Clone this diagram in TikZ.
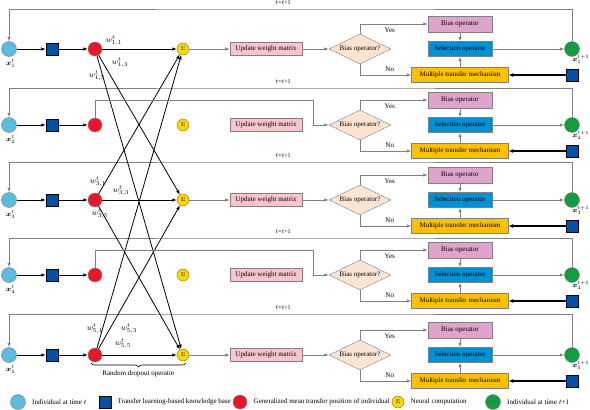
\documentclass[tikz,border=0pt]{standalone}
\usepackage{amsmath,amssymb,bm}
\usepackage{fontspec}
\setmainfont{Liberation Serif}
\usepackage{tikz}
\usetikzlibrary{shapes,shapes.geometric,arrows.meta,positioning,calc,decorations.pathreplacing}
\usepackage{xcolor}
\definecolor{indcyan}{RGB}{90,188,222}
\definecolor{kbblue}{RGB}{0,82,168}
\definecolor{gmred}{RGB}{232,24,44}
\definecolor{ncyellow}{RGB}{255,214,0}
\definecolor{ncborder}{RGB}{140,110,20}
\definecolor{nxtgreen}{RGB}{20,156,66}
\definecolor{uwmpink}{RGB}{250,196,206}
\definecolor{bqpeach}{RGB}{252,228,210}
\definecolor{bomauve}{RGB}{222,164,204}
\definecolor{soblue}{RGB}{0,144,214}
\definecolor{mtmorange}{RGB}{255,192,0}

\begin{document}
\begin{tikzpicture}[x=1pt,y=-1pt,
    font=\fontsize{7}{8}\selectfont,
    ind/.style={circle,draw=gray,fill=indcyan,minimum size=15pt,inner sep=0pt},
    kb/.style={rectangle,draw=black,fill=kbblue,minimum size=12pt,inner sep=0pt},
    gm/.style={circle,draw=gray,fill=gmred,minimum size=14pt,inner sep=0pt},
    nc/.style={circle,draw=ncborder,fill=ncyellow,minimum size=12pt,inner sep=0pt,font=\fontsize{5}{5}\selectfont},
    nxt/.style={circle,draw=gray,fill=nxtgreen,minimum size=15pt,inner sep=0pt},
    uwm/.style={rectangle,draw=gray,fill=uwmpink,minimum width=72pt,minimum height=13pt,inner sep=1pt},
    bq/.style={diamond,aspect=2.1,draw=gray,fill=bqpeach,minimum width=62pt,minimum height=30pt,inner sep=0pt},
    bo/.style={rectangle,draw=gray,fill=bomauve,minimum width=64pt,minimum height=16pt,inner sep=1pt},
    so/.style={rectangle,draw=gray,fill=soblue,minimum width=64pt,minimum height=15pt,inner sep=1pt},
    mtm/.style={rectangle,draw=gray,fill=mtmorange,minimum width=97pt,minimum height=15pt,inner sep=1pt},
    gry/.style={draw=gray,line width=0.8pt,-{Latex[length=4.5pt,width=3.5pt]}},
    blk/.style={draw=black,line width=0.8pt,-{Latex[length=4.5pt,width=3.5pt]}},
    blkthick/.style={draw=black,line width=1.3pt,-{Latex[length=4.5pt,width=4pt]}},
    wlab/.style={font=\fontsize{8}{9}\selectfont,inner sep=0pt},
    xlab/.style={font=\fontsize{7.5}{8}\selectfont,inner sep=0pt},
    brc/.style={decorate,decoration={brace,mirror,amplitude=4pt},draw=black,line width=0.6pt}
]
    \useasboundingbox (0,0) rectangle (590,410);

    % One row per individual
    \foreach \i/\y/\f in {1/49/9,2/125/88,3/200/162,4/275/238,5/355/314} {
        \node[ind] (ind\i) at (9,\y) {};
        \node[kb] (kb\i) at (52,\y) {};
        \node[gm] (gm\i) at (95,\y) {};
        \node[nc] (nc\i) at (183,\y) {$\Sigma$};
        \node[uwm] (uwm\i) at (266,\y) {Update weight matrix};
        \node[bq] (bq\i) at (360,\y) {Bias operator?};
        \node[bo] (bo\i) at (460,\y-25) {Bias operator};
        \node[so] (so\i) at (460,\y) {Selection operator};
        \node[mtm] (mtm\i) at (460,\y+26) {Multiple transfer mechanism};
        \node[nxt] (nxt\i) at (572,\y) {};
        \node[kb] (kbr\i) at (572,\y+26) {};
        \coordinate (fb\i) at (300,\f);

        % Labels
        \node[xlab, anchor=north west] (xl\i) at (6,\y+10) {$\bm{x}_{\i}^{t}$};
        \node[xlab, anchor=north east] (xn\i) at (589.5,\y+6) {$\bm{x}_{\i}^{t+1}$};
        \node[font=\fontsize{6}{7}\selectfont] (tl\i) at (283,\f-6) {$t$=$t$+1};

        % Connectors
        \draw[blk] (ind\i) -- (kb\i);
        \draw[blk] (kb\i) -- (gm\i);
        \draw[gry] (bq\i.north) |- (bo\i.west) node[pos=0.72, below] {Yes};
        \draw[gry] (bq\i.south) |- (mtm\i.west) node[pos=0.79, above] {No};
        \draw[gry] (bo\i) -- (so\i);
        \draw[gry] (mtm\i) -- (so\i);
        \draw[gry] (so\i) -- (nxt\i);
        \draw[blkthick] (kbr\i) -- (mtm\i);
        \draw[gry] (nxt\i.north) |- (fb\i) -| (ind\i.north);
    }

    % Kept individuals feed the neural computation
    \foreach \i in {1,3,5} {
        \draw[gry] (nc\i) -- (uwm\i);
        \draw[gry] (uwm\i) -- (bq\i);
        \foreach \j in {1,3,5}
            \draw[blk] (gm\i) -- (nc\j);
    }

    % Dropped individuals skip it
    \foreach \i/\y in {2/125,4/275} {
        \coordinate (dp\i) at (313,\y-25);
        \draw[gry] (gm\i.north) |- (dp\i) |- (bq\i.west);
    }

    % Weights
    \node[wlab] (w11) at ($(gm1)+(19,-8)$) {$w_{1,1}^{t}$};
    \node[wlab] (w13) at ($(gm1)+(25,14)$) {$w_{1,3}^{t}$};
    \node[wlab] (w15) at ($(gm1)+(2,27)$) {$w_{1,5}^{t}$};
    \node[wlab] (w31) at ($(gm3)+(3,-18)$) {$w_{3,1}^{t}$};
    \node[wlab] (w33) at ($(gm3)+(26,-9)$) {$w_{3,3}^{t}$};
    \node[wlab] (w35) at ($(gm3)+(5,14)$) {$w_{3,5}^{t}$};
    \node[wlab] (w51) at ($(gm5)+(0,-26)$) {$w_{5,1}^{t}$};
    \node[wlab] (w53) at ($(gm5)+(34,-26)$) {$w_{5,3}^{t}$};
    \node[wlab] (w55) at ($(gm5)+(28,-11)$) {$w_{5,5}^{t}$};

    % Dropout brace
    \draw[brc] ($(gm5)+(-4,8)$) -- ($(nc5)+(3,8)$) node[midway, below=4pt] (rdo) {Random dropout operator};

    % Legend
    \node[ind] (lgi) at (18,402) {};
    \node[right=3pt of lgi] (lgit) {Individual at time $t$};
    \node[kb] (lgk) at (105,402) {};
    \node[right=3pt of lgk] (lgkt) {Transfer learning-based knowledge base};
    \node[gm] (lgg) at (240,402) {};
    \node[right=3pt of lgg] (lggt) {Generalized mean transfer position of individual};
    \node[nc] (lgn) at (398,402) {$\Sigma$};
    \node[right=3pt of lgn] (lgnt) {Neural computation};
    \node[nxt] (lgx) at (493,402) {};
    \node[right=3pt of lgx] (lgxt) {Individual at time $t$+1};

\end{tikzpicture}
\end{document}
